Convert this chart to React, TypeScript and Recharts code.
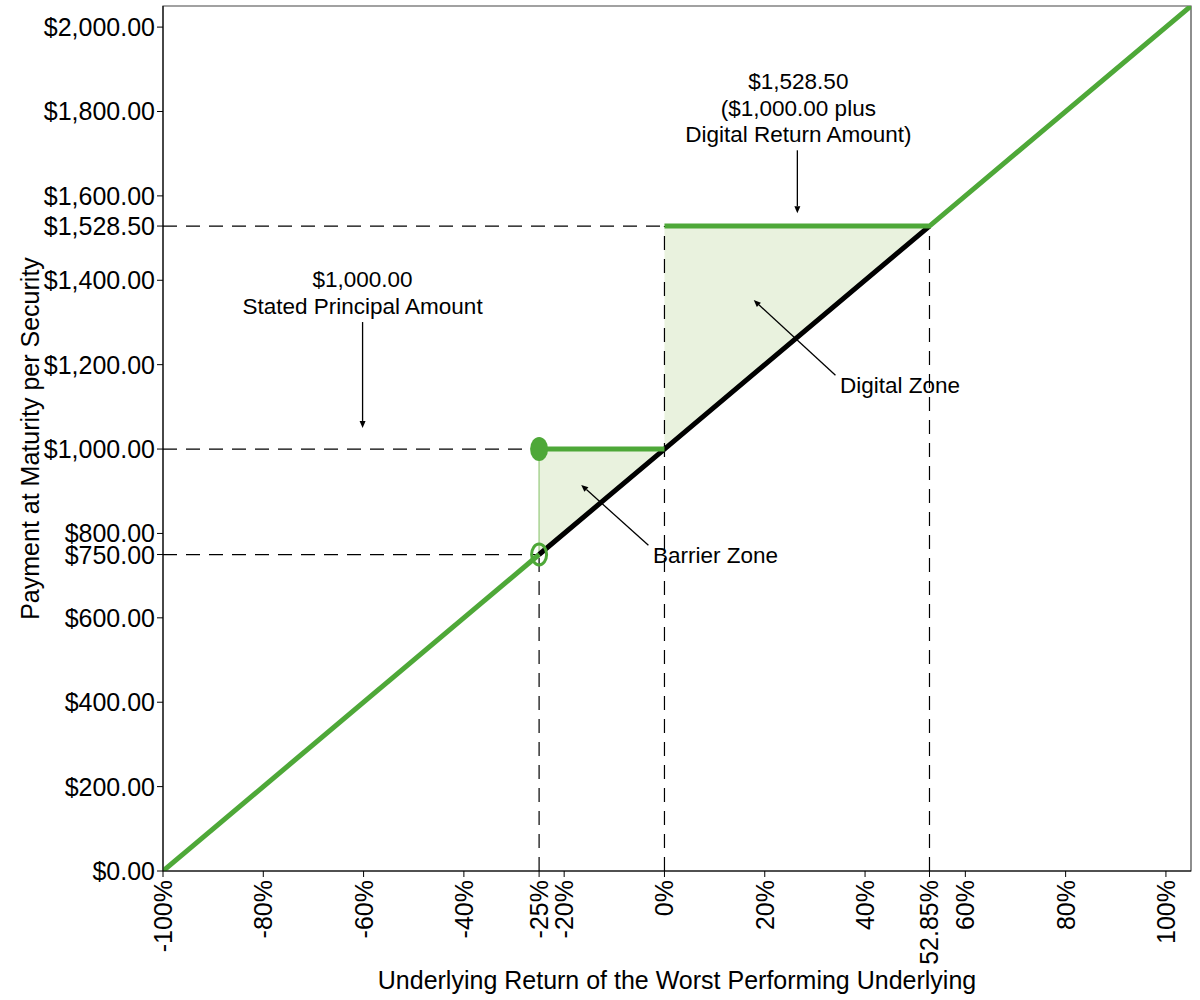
import React from "react";
import {
  ComposedChart,
  Line,
  Area,
  XAxis,
  YAxis,
  ReferenceLine,
  ReferenceDot,
  ReferenceArea,
} from "recharts";

// ---- data ----
const returnPoints = [-100, -25, 0, 52.85, 105];
const lowerSegment = [0, 750, null, null, null];
const principalSegment = [null, 1000, 1000, null, null];
const upperSegment = [null, null, 1528.5, 1528.5, 2050];
const underlyingLine = [null, 750, 1000, 1528.5, null];
const barrierZone: (number[] | null)[] = [null, [750, 1000], [1000, 1000], null, null];
const digitalZone: (number[] | null)[] = [null, null, [1000, 1528.5], [1528.5, 1528.5], null];

const xTicks = [-100, -80, -60, -40, -25, -20, 0, 20, 40, 52.85, 60, 80, 100];
const yTicks = [0, 200, 400, 600, 750, 800, 1000, 1200, 1400, 1528.5, 1600, 1800, 2000];

const barrierReturn = -25;
const barrierValue = 750;
const principal = 1000;
const digitalReturn = 52.85;
const digitalValue = 1528.5;

const data = returnPoints.map((x, i) => ({
  x,
  lower: lowerSegment[i],
  principal: principalSegment[i],
  upper: upperSegment[i],
  under: underlyingLine[i],
  barrier: barrierZone[i],
  digital: digitalZone[i],
}));

const GREEN = "#4ea838";
const FILL = "#e9f2de";
const FONT = "'Liberation Sans', Arial, sans-serif";

const fmtMoney = (v: number) =>
  "$" + v.toLocaleString("en-US", { minimumFractionDigits: 2, maximumFractionDigits: 2 });
const fmtPct = (v: number) => `${v}%`;

const XTick = (props: any) => {
  const { x, y, payload } = props;
  return (
    <text
      x={x}
      y={y}
      transform={`rotate(-90, ${x}, ${y})`}
      textAnchor="end"
      dominantBaseline="central"
      fontSize={25}
      fontFamily={FONT}
      fill="#000"
    >
      {fmtPct(payload.value)}
    </text>
  );
};

const YTick = (props: any) => {
  const { x, y, payload } = props;
  return (
    <text
      x={x}
      y={y}
      textAnchor="end"
      dominantBaseline="central"
      fontSize={25}
      fontFamily={FONT}
      fill="#000"
    >
      {fmtMoney(payload.value)}
    </text>
  );
};

const Arrow = (props: any) => {
  const { x1, y1, x2, y2 } = props;
  const ang = Math.atan2(y2 - y1, x2 - x1);
  const len = 7;
  const w = 3;
  const bx = x2 - len * Math.cos(ang);
  const by = y2 - len * Math.sin(ang);
  const px = -Math.sin(ang) * w;
  const py = Math.cos(ang) * w;
  return (
    <g>
      <line x1={x1} y1={y1} x2={bx} y2={by} stroke="#000" strokeWidth={1.3} />
      <polygon points={`${x2},${y2} ${bx + px},${by + py} ${bx - px},${by - py}`} fill="#000" />
    </g>
  );
};

const MultiLabel = (lines: string[], anchor: string, lineHeight: number) => (props: any) => {
  const { cx, cy } = props;
  return (
    <text x={cx} y={cy} textAnchor={anchor} fontSize={22.5} fontFamily={FONT} fill="#000">
      {lines.map((l, i) => (
        <tspan key={i} x={cx} dy={i === 0 ? 0 : lineHeight}>
          {l}
        </tspan>
      ))}
    </text>
  );
};

const FilledDot = (props: any) => {
  const { cx, cy } = props;
  return <ellipse cx={cx} cy={cy} rx={9} ry={12} fill={GREEN} />;
};
const OpenDot = (props: any) => {
  const { cx, cy } = props;
  return <ellipse cx={cx} cy={cy} rx={7.5} ry={10.5} fill="none" stroke={GREEN} strokeWidth={3} />;
};

const dash = "14 9";

export default function App() {
  return (
    <div style={{ position: "absolute", left: 0, top: 0, background: "#fff" }}>
      <ComposedChart
        width={1200}
        height={1000}
        data={data}
        margin={{ top: 6, right: 9, bottom: 0, left: 0 }}
      >
        <XAxis
          dataKey="x"
          type="number"
          domain={[-100, 105]}
          ticks={xTicks}
          interval={0}
          tick={<XTick />}
          tickSize={6}
          tickMargin={3}
          stroke="#000"
          height={129}
          allowDataOverflow
          label={{
            content: (p: any) => {
              const vb = p.viewBox;
              return (
                <text
                  x={vb.x + vb.width / 2}
                  y={vb.y + 118}
                  textAnchor="middle"
                  fontSize={25}
                  fontFamily={FONT}
                  fill="#000"
                >
                  Underlying Return of the Worst Performing Underlying
                </text>
              );
            },
          }}
        />
        <YAxis
          type="number"
          domain={[0, 2050]}
          ticks={yTicks}
          interval={0}
          tick={<YTick />}
          tickSize={6}
          tickMargin={2}
          stroke="#000"
          width={163}
          allowDataOverflow
          label={{
            content: (p: any) => {
              const vb = p.viewBox;
              const cx = vb.x + 30;
              const cy = vb.y + vb.height / 2;
              return (
                <text
                  x={cx}
                  y={cy}
                  transform={`rotate(-90, ${cx}, ${cy})`}
                  textAnchor="middle"
                  dominantBaseline="central"
                  fontSize={25}
                  fontFamily={FONT}
                  fill="#000"
                >
                  Payment at Maturity per Security
                </text>
              );
            },
          }}
        />

        {/* zones */}
        <Area dataKey="barrier" stroke="none" fill={FILL} fillOpacity={1} isAnimationActive={false} connectNulls={false} />
        <Area dataKey="digital" stroke="none" fill={FILL} fillOpacity={1} isAnimationActive={false} connectNulls={false} />
        <ReferenceLine
          segment={[
            { x: barrierReturn, y: barrierValue },
            { x: barrierReturn, y: principal },
          ]}
          stroke="#a9d392"
          strokeWidth={1.5}
        />

        {/* dashed guides */}
        <ReferenceLine segment={[{ x: -100, y: digitalValue }, { x: 0, y: digitalValue }]} stroke="#000" strokeDasharray={dash} strokeWidth={1.2} />
        <ReferenceLine segment={[{ x: -100, y: principal }, { x: barrierReturn, y: principal }]} stroke="#000" strokeDasharray={dash} strokeWidth={1.2} />
        <ReferenceLine segment={[{ x: -100, y: barrierValue }, { x: barrierReturn, y: barrierValue }]} stroke="#000" strokeDasharray={dash} strokeWidth={1.2} />
        <ReferenceLine segment={[{ x: barrierReturn, y: 0 }, { x: barrierReturn, y: barrierValue }]} stroke="#000" strokeDasharray={dash} strokeWidth={1.2} />
        <ReferenceLine segment={[{ x: 0, y: 0 }, { x: 0, y: digitalValue }]} stroke="#000" strokeDasharray={dash} strokeWidth={1.2} />
        <ReferenceLine segment={[{ x: digitalReturn, y: 0 }, { x: digitalReturn, y: digitalValue }]} stroke="#000" strokeDasharray={dash} strokeWidth={1.2} />

        {/* lines */}
        <Line dataKey="under" stroke="#000" strokeWidth={5} dot={false} activeDot={false} isAnimationActive={false} connectNulls={false} />
        <Line dataKey="lower" stroke={GREEN} strokeWidth={5} dot={false} activeDot={false} isAnimationActive={false} connectNulls={false} />
        <Line dataKey="principal" stroke={GREEN} strokeWidth={5} dot={false} activeDot={false} isAnimationActive={false} connectNulls={false} />
        <Line dataKey="upper" stroke={GREEN} strokeWidth={5} dot={false} activeDot={false} isAnimationActive={false} connectNulls={false} />

        <ReferenceDot x={barrierReturn} y={principal} shape={<FilledDot />} />
        <ReferenceDot x={barrierReturn} y={barrierValue} shape={<OpenDot />} />

        {/* annotations */}
        <ReferenceDot
          x={26.7}
          y={1853}
          shape={MultiLabel(["$1,528.50", "($1,000.00 plus", "Digital Return Amount)"], "middle", 26.5)}
        />
        <ReferenceLine segment={[{ x: 26.5, y: 1708 }, { x: 26.5, y: 1559 }]} shape={<Arrow />} />

        <ReferenceDot
          x={-60.2}
          y={1383}
          shape={MultiLabel(["$1,000.00", "Stated Principal Amount"], "middle", 26.5)}
        />
        <ReferenceLine segment={[{ x: -60.2, y: 1301 }, { x: -60.2, y: 1050 }]} shape={<Arrow />} />

        <ReferenceDot x={35} y={1133} shape={MultiLabel(["Digital Zone"], "start", 26)} />
        <ReferenceLine segment={[{ x: 34.1, y: 1175 }, { x: 17.8, y: 1353 }]} shape={<Arrow />} />

        <ReferenceDot x={-2.3} y={731} shape={MultiLabel(["Barrier Zone"], "start", 26)} />
        <ReferenceLine segment={[{ x: -3.2, y: 772 }, { x: -16.6, y: 915 }]} shape={<Arrow />} />

        {/* frame */}
        <ReferenceArea x1={-100} x2={105} y1={0} y2={2050} fill="none" stroke="#444" strokeWidth={1.2} />
      </ComposedChart>
    </div>
  );
}
